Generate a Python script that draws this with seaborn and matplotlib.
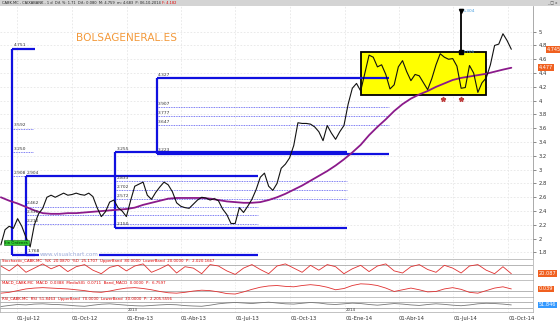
import numpy as np
import pandas as pd
import matplotlib
matplotlib.use("Agg")
import matplotlib.pyplot as plt
import matplotlib.dates as mdates
import seaborn as sns

sns.set_theme(style="white")
plt.rcParams["font.family"] = ["DejaVu Sans"]

# ---------------- data ----------------
start_week = "2012-06-04"
close = [1.91, 2.13, 2.18, 2.15, 2.29, 2.18, 2.02, 1.88, 2.20, 2.36,
         2.44, 2.60, 2.63, 2.60, 2.63, 2.66, 2.63, 2.64, 2.66, 2.64,
         2.63, 2.66, 2.61, 2.45, 2.32, 2.39, 2.53, 2.56, 2.45, 2.40,
         2.32, 2.55, 2.76, 2.79, 2.82, 2.63, 2.57, 2.67, 2.75, 2.82,
         2.78, 2.68, 2.52, 2.47, 2.45, 2.44, 2.50, 2.56, 2.60, 2.59,
         2.56, 2.58, 2.55, 2.43, 2.35, 2.22, 2.22, 2.45, 2.38, 2.47,
         2.57, 2.71, 2.89, 2.95, 2.76, 2.70, 2.80, 3.02, 3.08, 3.17,
         3.35, 3.68, 3.67, 3.67, 3.66, 3.62, 3.55, 3.42, 3.64, 3.53,
         3.44, 3.55, 3.64, 3.95, 4.18, 4.25, 4.14, 4.40, 4.66, 4.63,
         4.49, 4.52, 4.38, 4.17, 4.23, 4.49, 4.58, 4.42, 4.29, 4.38,
         4.36, 4.26, 4.16, 4.32, 4.52, 4.68, 4.63, 4.60, 4.61, 4.50,
         4.18, 4.19, 4.51, 4.40, 4.12, 4.26, 4.33, 4.52, 4.80, 4.82,
         4.97, 4.87, 4.745]
# moving average, every second week
mavg = [2.60, 2.55, 2.51, 2.46, 2.41, 2.37, 2.36, 2.36, 2.37, 2.37,
        2.38, 2.39, 2.40, 2.41, 2.42, 2.43, 2.45, 2.49, 2.52, 2.55,
        2.58, 2.59, 2.59, 2.59, 2.59, 2.58, 2.56, 2.54, 2.53, 2.52,
        2.52, 2.53, 2.56, 2.60, 2.65, 2.71, 2.77, 2.84, 2.91, 2.98,
        3.06, 3.15, 3.25, 3.36, 3.50, 3.62, 3.73, 3.85, 3.95, 4.03,
        4.09, 4.14, 4.20, 4.25, 4.30, 4.33, 4.35, 4.37, 4.39, 4.42,
        4.45, 4.477]

# lower indicators, every second week
stoch = [75, 40, 85, 30, 60, 90, 55, 80, 35, 70, 85, 45, 20, 65, 80, 40,
         75, 90, 30, 55, 85, 25, 70, 60, 20, 85, 75, 40, 15, 60, 85, 50,
         20, 75, 90, 60, 30, 80, 45, 85, 70, 20, 55, 80, 35, 75, 90, 40,
         25, 70, 85, 50, 30, 80, 60, 25, 75, 85, 45, 20, 70, 20]
macd = [-0.06, -0.04, 0.00, 0.04, 0.06, 0.07, 0.06, 0.05, 0.04, 0.02,
        0.00, -0.03, -0.04, -0.01, 0.03, 0.06, 0.07, 0.05, 0.02, -0.02,
        -0.05, -0.06, -0.04, -0.01, 0.01, 0.00, -0.03, -0.07, -0.08, -0.03,
        0.03, 0.08, 0.11, 0.12, 0.10, 0.09, 0.12, 0.14, 0.12, 0.08,
        0.02, 0.05, 0.12, 0.16, 0.15, 0.12, 0.06, -0.02, 0.02, 0.06,
        0.02, -0.03, -0.02, 0.04, 0.07, 0.03, -0.04, -0.06, 0.00, 0.06,
        0.09, 0.04]
rsi = [40, 48, 55, 52, 58, 60, 56, 54, 50, 45, 42, 50, 57, 60, 55, 50,
       46, 44, 48, 52, 55, 53, 47, 44, 42, 50, 60, 66, 70, 66, 62, 68,
       72, 66, 60, 58, 64, 70, 66, 58, 55, 60, 65, 62, 55, 50, 56, 62,
       58, 52, 48, 55, 60, 56, 50, 46, 52, 60, 64, 62, 58, 52]

# Fibonacci retracement tools: anchor date, end date, top, bottom, levels
fib_start = ["2012-06-23", "2012-07-16", "2012-12-12", "2013-02-20"]
fib_end = ["2012-07-31", "2013-08-08", "2014-01-04", "2014-03-15"]
fib_level_end = ["2012-07-28", "2013-08-08", "2014-01-04", "2014-03-15"]
fib_top = [4.751, 2.904, 3.255, 4.327]
fib_bottom = [1.768, 1.768, 2.150, 3.223]
fib_bottom_label = [False, True, True, True]
fib_levels = [[3.592, 3.250, 2.908], [2.462, 2.336, 2.210],
              [2.833, 2.702, 2.572], [3.907, 3.777, 3.647]]

box_start, box_end = "2014-01-28", "2014-08-25"
box_top, box_bottom = 4.705, 4.080
target_date, target_value = "2014-07-14", 5.304
star_dates = ["2014-06-14", "2014-07-14"]
star_value = 4.03

tick_dates = ["2012-07-01", "2012-10-01", "2013-01-01", "2013-04-01", "2013-07-01",
              "2013-10-01", "2014-01-01", "2014-04-01", "2014-07-01", "2014-10-01"]
tick_labels = ["01-Jul-12", "01-Oct-12", "01-Ene-13", "01-Abr-13", "01-Jul-13",
               "01-Oct-13", "01-Ene-14", "01-Abr-14", "01-Jul-14", "01-Oct-14"]
year_dates = ["2013-01-01", "2014-01-01"]
year_labels = ["2013", "2014"]
price_ticks = [1.8, 2.0, 2.2, 2.4, 2.6, 2.8, 3.0, 3.2, 3.4, 3.6, 3.8, 4.0,
               4.2, 4.4, 4.6, 4.8, 5.0]

# ---------------- frames ----------------
weeks = pd.date_range(start_week, periods=len(close), freq="7D")
df = pd.DataFrame({"date": weeks, "close": close})
dfm = pd.DataFrame({"date": weeks[::2], "ma": mavg})
dfi = pd.DataFrame({"date": weeks[::2], "stoch": stoch, "macd": macd, "rsi": rsi})

W, H = 560, 321
fig = plt.figure(figsize=(W / 100, H / 100), dpi=100)
fig.patch.set_facecolor("white")


def ax_px(x0, y0, x1, y1):
    return fig.add_axes([x0 / W, 1 - y1 / H, (x1 - x0) / W, (y1 - y0) / H])


d0 = mdates.date2num(pd.Timestamp("2012-07-01"))
xl = (d0 - 17 * 1.673, d0 + 516 * 1.673)
tick_num = [mdates.date2num(pd.Timestamp(t)) for t in tick_dates]
grid_c = "#e6e6e6"
blue = "#1010e0"

# title bar
tb = ax_px(0, 0, 560, 6)
tb.set_facecolor("#d4d4d4")
tb.set_xticks([]); tb.set_yticks([])
for s in tb.spines.values():
    s.set_visible(False)
t1 = tb.text(0.004, 0.45,
             "CABK.MC - CAIXABANK - 1 d  Dif. %: 1.71  Dif.: 0.080  M: 4.759  m: 4.683  P: 06-10-2014 ",
             transform=tb.transAxes, fontsize=2.6, va="center", ha="left", color="#222222")
tb.annotate("F: 4.182", xy=(1, 0.5), xycoords=t1, fontsize=2.6, va="center",
            ha="left", color="#e00000")
tb.text(0.995, 0.45, "_ \u25a1 x", transform=tb.transAxes, fontsize=2.8, va="center",
        ha="right", color="#444444")

# main chart
ax = ax_px(0, 6, 533, 258)
ax.set_xlim(*xl)
ax.set_ylim(1.72, 5.372)
for t in tick_num:
    ax.axvline(t, color=grid_c, lw=0.6, ls=(0, (2, 2)), zorder=0)
for p in price_ticks:
    ax.axhline(p, color=grid_c, lw=0.6, ls=(0, (2, 2)), zorder=0)

# fib tools
for s, e, le, top, bot, bl, lv in zip(fib_start, fib_end, fib_level_end, fib_top,
                                      fib_bottom, fib_bottom_label, fib_levels):
    sn = mdates.date2num(pd.Timestamp(s))
    en = mdates.date2num(pd.Timestamp(e))
    ln = mdates.date2num(pd.Timestamp(le))
    ax.plot([sn, sn], [bot, top], color=blue, lw=1.6, zorder=3, solid_capstyle="butt")
    ax.plot([sn, en], [top, top], color=blue, lw=1.6, zorder=3, solid_capstyle="butt")
    ax.plot([sn, en], [bot, bot], color=blue, lw=1.6, zorder=3, solid_capstyle="butt")
    ax.text(sn + 2, top + 0.02, f"{top:.3f}", fontsize=3.2, color="#333333", va="bottom", zorder=6)
    if bl:
        ax.text(sn + 2, bot + 0.03, f"{bot:.3f}", fontsize=3.2, color="#333333", va="bottom", zorder=8)
    for v in lv:
        ax.plot([sn, ln], [v, v], color="#5050f0", lw=0.6, ls=(0, (1, 1)), zorder=2)
        ax.text(sn + 2, v + 0.02, f"{v:.3f}", fontsize=3.2, color="#333333", va="bottom", zorder=6)

# yellow box
bs = mdates.date2num(pd.Timestamp(box_start))
be = mdates.date2num(pd.Timestamp(box_end))
ax.add_patch(plt.Rectangle((bs, box_bottom), be - bs, box_top - box_bottom,
                           facecolor="#ffff00", edgecolor="black", lw=1.3, zorder=1))

# price and MA
sns.lineplot(data=df, x="date", y="close", ax=ax, color="#111111", lw=0.8, zorder=5)
sns.lineplot(data=dfm, x="date", y="ma", ax=ax, color="#8b1a8b", lw=1.3, zorder=4)

# target line
td = mdates.date2num(pd.Timestamp(target_date))
ax.plot([td, td], [box_top, target_value], color="black", lw=1.3, zorder=6)
ax.plot([td], [target_value], marker="v", color="black", ms=3, zorder=6)
ax.plot([td], [box_top], marker="s", color="black", ms=2.5, zorder=6)
ax.text(td + 3, target_value, f"{target_value:.3f}", fontsize=3.2, color="#4aa0e0", va="center")
ax.text(td + 3, box_top, f"{box_top:.3f}", fontsize=3.2, color="#4aa0e0", va="center")
for sd in star_dates:
    ax.plot([mdates.date2num(pd.Timestamp(sd))], [star_value], marker="*", color="#c04040",
            ms=3.5, zorder=6, lw=0)

ax.text(0.143, 0.873, "BOLSAGENERAL.ES", transform=ax.transAxes, fontsize=7.6,
        color="#f39a3c", va="center", ha="left")
ax.text(0.074, 0.012, "www.visualchart.com", transform=ax.transAxes, fontsize=4.0,
        color="#9aa8d8", va="center", ha="left", zorder=7,
        bbox=dict(facecolor="white", edgecolor="none", pad=0.2))
ax.text(0.008, 0.06, "Sin Ordenes", transform=ax.transAxes, fontsize=2.8, color="#003300",
        va="center", ha="left", zorder=8,
        bbox=dict(facecolor="#33cc33", edgecolor="#116611", pad=0.4, lw=0.4))

ax.yaxis.tick_right()
ax.set_yticks(price_ticks)
ax.set_yticklabels([f"{p:g}" for p in price_ticks])
ax.tick_params(axis="y", labelsize=3.8, colors="#333333", length=2, width=0.4, pad=2)
ax.set_xticks([])
ax.set_xlabel(""); ax.set_ylabel("")
for s in ["top", "left", "bottom"]:
    ax.spines[s].set_visible(False)
ax.spines["right"].set_color("#888888"); ax.spines["right"].set_linewidth(0.5)


def tag(axis, y, txt, fc, dx=4):
    axis.annotate(txt, xy=(1.0, y), xycoords=("axes fraction", "data"), xytext=(dx, 0),
                  textcoords="offset points", fontsize=3.6, color="white", va="center",
                  ha="left", annotation_clip=False, zorder=10,
                  bbox=dict(facecolor=fc, edgecolor="none", pad=0.6))


tag(ax, 4.745, "4.745", "#f06020", dx=10)
tag(ax, 4.477, "4.477", "#f06020")


# lower panels
def panel(y0, y1, col, lo, hi, bands, title, tagv, tagtxt, tagc):
    a = ax_px(0, y0, 533, y1)
    a.set_xlim(*xl)
    a.set_ylim(lo, hi)
    for b in bands:
        a.axhline(b, color="#999999", lw=0.5)
    for t in tick_num:
        a.axvline(t, color=grid_c, lw=0.5, ls=(0, (2, 2)), zorder=0)
    sns.lineplot(data=dfi, x="date", y=col, ax=a, color="#e03030", lw=0.6)
    a.set_xticks([]); a.set_yticks([])
    a.set_xlabel(""); a.set_ylabel("")
    for s in a.spines.values():
        s.set_color("#aaaaaa"); s.set_linewidth(0.5)
    a.text(0.003, 0.98, title, transform=a.transAxes, fontsize=2.8, color="#e00000",
           va="top", ha="left")
    tag(a, tagv, tagtxt, tagc)
    return a


panel(259, 280, "stoch", -25, 125, [20, 80],
      "Stochastic_CABK.MC  %K  20.0870  %D  25.1707  UpperBand  80.0000  LowerBand  20.0000  P:  2.020.1667",
      20.087, "20.087", "#f06020")
panel(280, 297, "macd", -0.15, 0.25, [0],
      "MACD_CABK.MC  MACD  0.0388  MediaSIG  0.0711  Band_MACD  0.0000  P:  6.7597",
      0.039, "0.039", "#f06020")
ar = panel(297, 312, "rsi", 0, 110, [30, 70],
           "RSI_CABK.MC  RSI  51.8463  UpperBand  70.0000  LowerBand  30.0000  P:  2.205.5556",
           51.846, "51.846", "#3399ff")
ar.lines[-1].set_color("#777777")
for yd, yl in zip(year_dates, year_labels):
    ar.text(mdates.date2num(pd.Timestamp(yd)) + 1.5, 2, yl, fontsize=2.8, color="#333333",
            va="bottom", ha="left")

# date axis labels
ar.set_xticks(tick_num)
ar.set_xticklabels(tick_labels)
ar.tick_params(axis="x", labelsize=3.8, colors="#333333", length=2, width=0.4, pad=1,
               direction="out")
for lbl in ar.get_xticklabels():
    lbl.set_horizontalalignment("left")

fig.savefig("out.png", dpi=100, facecolor="white")
